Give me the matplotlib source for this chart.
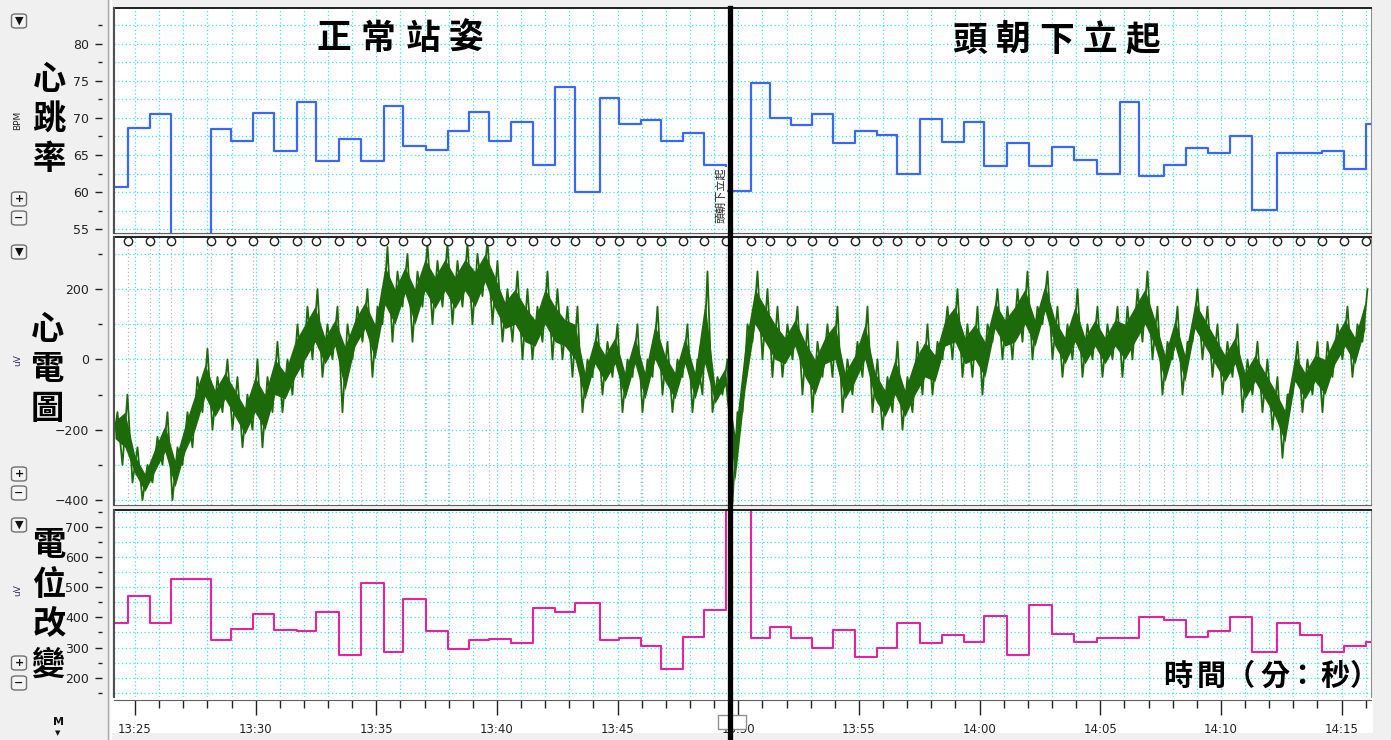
import numpy as np
import matplotlib
matplotlib.use("Agg")
import matplotlib.pyplot as plt
from matplotlib.patches import Rectangle, FancyBboxPatch
from matplotlib.lines import Line2D
from matplotlib.transforms import blended_transform_factory
from matplotlib.ticker import MultipleLocator, FuncFormatter

# ---------------- data (time in minutes after 13:00) ----------------
x_start, x_end = 24.13, 76.22
switch_t = 49.66  # posture change marker

beat_t = [24.13, 24.73, 25.64, 26.49, 28.14, 28.99, 29.89, 30.75, 31.71, 32.51,
          33.45, 34.35, 35.32, 36.11, 37.07, 37.97, 38.84, 39.69, 40.59, 41.49,
          42.41, 43.25, 44.25, 45.06, 45.95, 46.81, 47.72, 48.57, 49.51, 50.52,
          51.33, 52.17, 53.07, 53.93, 54.83, 55.74, 56.58, 57.53, 58.44, 59.36,
          60.20, 61.15, 62.05, 63.01, 63.90, 64.87, 65.81, 66.61, 67.63, 68.57,
          69.47, 70.38, 71.28, 72.33, 73.28, 74.20, 75.09, 76.02]

heart_rate = [60.7, 68.66, 70.54, 30.0, 68.5, 66.9, 70.67, 65.6, 72.1, 64.2,
              67.2, 64.2, 71.6, 66.2, 65.7, 68.2, 70.8, 66.9, 69.5, 63.6,
              74.1, 60.05, 72.7, 69.2, 69.65, 66.9, 67.9, 63.6, 60.2, 74.7,
              70.0, 69.06, 70.5, 66.64, 68.25, 67.7, 62.5, 69.8, 66.8, 69.4,
              63.5, 66.6, 63.5, 66.1, 64.35, 62.5, 72.1, 62.2, 63.6, 65.9,
              65.3, 67.5, 57.6, 65.3, 65.3, 65.6, 63.1, 69.2]

amplitude = [383, 471, 383, 527.6, 323.6, 362.5, 411, 359, 355, 419,
             274, 515, 286, 462, 356, 295, 325, 328, 315, 430,
             417, 448, 326, 330, 306, 229.6, 335, 423, 900, 330,
             367, 330, 300, 358, 270, 300, 380, 315, 340, 320,
             405, 275, 440, 345, 320, 330, 330, 400, 390, 335,
             355, 400, 285, 380, 340, 285, 305, 320]

# ECG envelope (low / high, uV) sampled every ecg_dt minutes from ecg_t0
ecg_t0, ecg_dt = 24.17, 0.4144
ecg_lo = [-250, -300, -350, -400, -350, -300, -400, -300, -250, -150,
          -200, -150, -200, -250, -200, -250, -150, -150, -100, -50,
          0, -50, 0, -150, 0, 50, -50, 100, 50, 150,
          50, 150, 100, 150, 100, 150, 100, 180, 100, 50,
          50, 0, 0, 50, 0, 0, -50, -150, -50, -100,
          -50, -150, -50, -150, -50, -100, -150, -50, -150, -100,
          -150, -100, -410, -150, 50, 0, -50, -50, 0, -100,
          -150, -50, -50, -150, -100, -50, -150, -200, -150, -200,
          -150, -100, -100, 0, 0, -50, -50, -100, 50, 0,
          0, 50, 0, 100, 0, -50, 0, -50, 0, -50,
          0, -50, 0, 50, 0, -100, 0, -100, 50, 0,
          -50, -100, -50, -150, -100, -150, -200, -280, -100, -150,
          -100, -150, -50, 0, -50, 50]
ecg_hi = [-150, -100, -250, -300, -220, -150, -250, -150, -50, 30,
          -50, 0, -50, -100, 0, -50, 50, 0, 100, 150,
          200, 100, 150, 100, 150, 200, 150, 320, 250, 300,
          250, 330, 280, 330, 280, 330, 300, 340, 280, 200,
          250, 200, 150, 250, 200, 150, 150, 0, 100, 50,
          100, 0, 100, 0, 150, 50, 0, 100, 0, 250,
          -50, 0, -150, 100, 250, 200, 150, 100, 150, 100,
          50, 100, 150, 0, 50, 150, 0, -50, 50, -50,
          50, 100, 50, 150, 200, 100, 150, 100, 200, 150,
          200, 250, 150, 250, 150, 100, 200, 100, 150, 100,
          150, 150, 200, 250, 150, 50, 150, 50, 200, 150,
          100, 50, 100, 0, 50, 0, -50, -100, 50, 0,
          50, 50, 100, 150, 100, 200]

hr_ticks = [55, 60, 65, 70, 75, 80]
ecg_ticks = [-400, -200, 0, 200]
amp_ticks = [200, 300, 400, 500, 600, 700]

# ---------------- figure ----------------
W, H = 1391, 740
fig = plt.figure(figsize=(W / 100, H / 100), dpi=100, facecolor="#f0f0f0")
CJK = ["Noto Sans CJK TC", "DejaVu Sans"]


def rect(x0, y0, x1, y1):
    return [x0 / W, 1 - y1 / H, (x1 - x0) / W, (y1 - y0) / H]


def fx(x):
    return x / W


def fy(y):
    return 1 - y / H


fig.add_artist(Rectangle((fx(112), fy(733)), (1373 - 112) / W, (733 - 697) / H,
                         transform=fig.transFigure, facecolor="white", edgecolor="none", zorder=0))
fig.add_artist(Line2D([fx(107.5)] * 2, [0, 1], transform=fig.transFigure, color="#a8a8a8", lw=1))
fig.add_artist(Line2D([fx(110.5)] * 2, [0, 1], transform=fig.transFigure, color="#ffffff", lw=1.2))

ax1 = fig.add_axes(rect(114, 8, 1371, 233))
ax2 = fig.add_axes(rect(114, 237, 1371, 505))
ax3 = fig.add_axes(rect(114, 510, 1371, 697))

grid_c = "#3ee0ee"
for ax in (ax1, ax2, ax3):
    ax.set_facecolor("white")
    ax.set_xlim(x_start, x_end)
    ax.xaxis.set_major_locator(MultipleLocator(5))
    ax.xaxis.set_minor_locator(MultipleLocator(1))
    ax.grid(which="both", axis="both", color=grid_c, linestyle=(0, (1, 2)), lw=0.9)
    ax.set_axisbelow(True)
    ax.spines["left"].set_position(("outward", 9))
    ax.spines["left"].set_visible(False)
    ax.spines["right"].set_color("#909090")
    ax.spines["top"].set_color("#202020")
    ax.spines["top"].set_linewidth(1.4)
    ax.spines["bottom"].set_color("#606060")
    ax.plot([0, 0], [0, 1], transform=ax.transAxes, color="#505050", lw=1.5, clip_on=False, zorder=5)
    ax.tick_params(axis="y", which="major", length=5, width=1, labelsize=9, colors="#222222", pad=4)
    ax.tick_params(axis="y", which="minor", length=3, width=1, colors="#222222")

# ---- heart rate
ax1.set_ylim(54.5, 84.8)
ax1.set_yticks(hr_ticks)
ax1.yaxis.set_minor_locator(MultipleLocator(2.5))
ax1.step(beat_t + [x_end], heart_rate + [heart_rate[-1]], where="post", color="#3a68f5", lw=1.6)
ax1.tick_params(axis="x", which="both", length=0, labelbottom=False)

# ---- ECG
ax2.set_ylim(-414, 348)
ax2.set_yticks(ecg_ticks)
ax2.yaxis.set_minor_locator(MultipleLocator(100))
ax2.tick_params(axis="x", which="both", length=0, labelbottom=False)
ecg_t = ecg_t0 + ecg_dt * np.arange(len(ecg_lo))
ax2.vlines(beat_t[1:], -414, 348, colors="#b8b8b8", linestyles=(0, (1, 2)), lw=0.9, zorder=1)
# trace drawn as strokes alternating between the read low/high values
zx = np.ravel(np.column_stack([ecg_t - ecg_dt / 4, ecg_t + ecg_dt / 4]))
zy = np.ravel(np.column_stack([ecg_lo, ecg_hi]))
ax2.plot(zx, zy, color="#1d6a0a", lw=1.3, zorder=2)
mid = (np.array(ecg_lo) + np.array(ecg_hi)) / 2
ax2.fill_between(ecg_t, (np.array(ecg_lo) + mid) / 2, (np.array(ecg_hi) + mid) / 2,
                 color="#1d6a0a", lw=0, zorder=2)
trans = blended_transform_factory(ax2.transData, ax2.transAxes)
ax2.plot(beat_t[1:], [1 - 4 / 268] * (len(beat_t) - 1), "o", ms=6, mfc="white", mec="#222222",
         mew=1, transform=trans, clip_on=False, zorder=6)

# ---- amplitude
ax3.set_ylim(136, 756)
ax3.set_yticks(amp_ticks)
ax3.yaxis.set_minor_locator(MultipleLocator(50))
ax3.step(beat_t + [x_end], amplitude + [amplitude[-1]], where="post", color="#e4239f", lw=1.5)
ax3.xaxis.set_major_formatter(FuncFormatter(lambda v, p: f"{13 + int(v) // 60}:{int(v) % 60:02d}"))
ax3.tick_params(axis="x", which="major", direction="out", length=11, width=1, labelsize=8.5,
                colors="#222222", pad=6)
ax3.tick_params(axis="x", which="minor", direction="out", length=6, width=1, colors="#222222")
ax3.spines["bottom"].set_position(("outward", 2))


# ---------------- texts ----------------
def chars(text_list, xs, ys, size):
    for c, x, y in zip(text_list, xs, ys):
        fig.text(fx(x), fy(y), c, fontsize=size, family=CJK, weight="bold",
                 ha="center", va="center", color="black", zorder=10)


chars("正常站姿", [334, 378, 423, 466], [38] * 4, 25)
chars("頭朝下立起", [970, 1013, 1057, 1100, 1143], [40] * 5, 25)
chars("心跳率", [49] * 3, [80, 120, 160], 24)
chars("心電圖", [47] * 3, [330, 370, 410], 24)
chars("電位改變", [49] * 4, [545, 585, 625, 665], 24)
chars(["時", "間", "（", "分", "：", "秒", "）"],
      [1178, 1211, 1240, 1275, 1302, 1335, 1364], [676] * 7, 21)

fig.text(fx(18), fy(120), "BPM", rotation=90, fontsize=6.5, ha="center", va="center", color="#222222")
fig.text(fx(18), fy(360), "uV", rotation=90, fontsize=6.5, ha="center", va="center", color="#333366")
fig.text(fx(18), fy(590), "uV", rotation=90, fontsize=6.5, ha="center", va="center", color="#333366")

fig.text(fx(721.5), fy(195), "頭朝下立起", rotation=90, fontsize=8, family=CJK, ha="center",
         va="center", color="#222222", zorder=11,
         bbox=dict(boxstyle="square,pad=0.05", fc="white", ec="none"))


def button(cx, cy, label, w=15, h=14):
    fig.add_artist(FancyBboxPatch((fx(cx - w / 2), fy(cy + h / 2)), w / W, h / H,
                                  boxstyle="round,pad=0,rounding_size=0.003",
                                  transform=fig.transFigure, fc="#f4f4f4", ec="#707070", lw=1))
    fig.text(fx(cx), fy(cy), label, fontsize=8, weight="bold", ha="center", va="center", color="#111111")


for cy in (21, 252, 525):
    button(19, cy, "▼")
for cy in (199, 474, 663):
    button(19, cy, "+")
for cy in (218, 493, 683):
    button(19, cy, "−")
fig.text(fx(58), fy(722), "M", fontsize=8, weight="bold", ha="center", va="center", color="#111111")
fig.text(fx(58), fy(733), "▼", fontsize=5, ha="center", va="center", color="#111111")

fig.add_artist(Rectangle((fx(718), fy(729)), 28 / W, 14 / H, transform=fig.transFigure,
                         fc="white", ec="#909090", lw=1, zorder=12))

vt = blended_transform_factory(ax1.transData, fig.transFigure)
fig.add_artist(Line2D([switch_t, switch_t], [fy(8), 0], transform=vt, color="black", lw=3.8, zorder=20))

fig.savefig("out.png", dpi=100, facecolor=fig.get_facecolor())
